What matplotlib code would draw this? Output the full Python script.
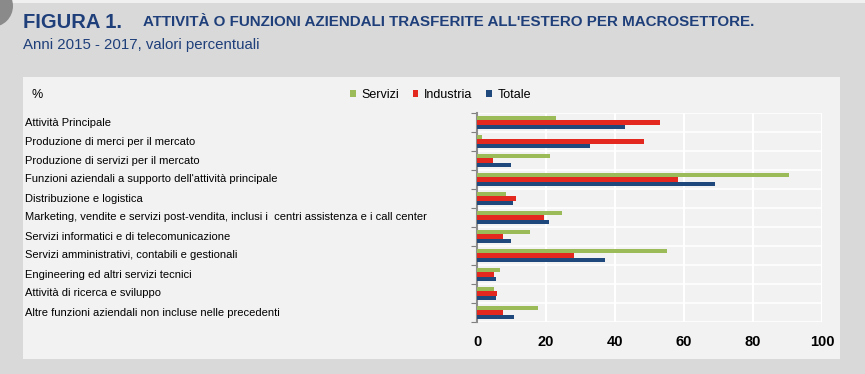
import matplotlib
matplotlib.use("Agg")
import matplotlib.pyplot as plt
from matplotlib.patches import Rectangle, Ellipse

categories = [
    "Attività Principale",
    "Produzione di merci per il mercato",
    "Produzione di servizi per il mercato",
    "Funzioni aziendali a supporto dell'attività principale",
    "Distribuzione e logistica",
    "Marketing, vendite e servizi post-vendita, inclusi i  centri assistenza e i call center",
    "Servizi informatici e di telecomunicazione",
    "Servizi amministrativi, contabili e gestionali",
    "Engineering ed altri servizi tecnici",
    "Attività di ricerca e sviluppo",
    "Altre funzioni aziendali non incluse nelle precedenti",
]
servizi = [23.0, 1.5, 21.2, 90.5, 8.5, 24.5, 15.4, 55.0, 6.7, 4.8, 17.6]
industria = [53.1, 48.4, 4.5, 58.3, 11.3, 19.4, 7.5, 28.1, 4.8, 5.9, 7.4]
totale = [43.0, 32.7, 9.9, 69.1, 10.4, 20.8, 9.9, 37.2, 5.6, 5.6, 10.6]
series_names = ["Servizi", "Industria", "Totale"]
xticks = [0, 20, 40, 60, 80, 100]

plt.rcParams['font.family'] = ['Liberation Sans', 'DejaVu Sans']

W, H = 865, 374
fig = plt.figure(figsize=(W/100, H/100), dpi=100)
fig.patch.set_facecolor('#d9d9d9')

def fx(px): return px / W
def fy(py): return 1 - py / H

# top light strip and corner circle
fig.patches.append(Rectangle((0, fy(3)), 1, fy(0) - fy(3), transform=fig.transFigure,
                             facecolor='#f0f0f0', edgecolor='none', zorder=0))
fig.patches.append(Ellipse((fx(-8), fy(6)), 2 * 21 / W, 2 * 21 / H, transform=fig.transFigure,
                           facecolor='#8a8a8a', edgecolor='none', zorder=1))
# inner panel
fig.patches.append(Rectangle((fx(23), fy(359)), fx(840) - fx(23), fy(77) - fy(359),
                             transform=fig.transFigure, facecolor='#f2f2f2',
                             edgecolor='none', zorder=0))

navy = '#1f3f7a'
fig.text(fx(23), fy(22), "FIGURA 1.", fontsize=14.5, fontweight='bold', color=navy,
         va='center', ha='left')
fig.text(fx(143), fy(22), "ATTIVITÀ O FUNZIONI AZIENDALI TRASFERITE ALL'ESTERO PER MACROSETTORE.",
         fontsize=10.9, fontweight='bold', color=navy, va='center', ha='left')
fig.text(fx(23), fy(45), "Anni 2015 - 2017, valori percentuali", fontsize=10.8,
         color=navy, va='center', ha='left')

ax = fig.add_axes([fx(477), fy(322), fx(822) - fx(477), fy(113) - fy(322)])
ax.set_zorder(5)
ax.set_facecolor('#f2f2f2')

n = len(categories)
ys = list(range(n))
h = 0.23
colors = ['#9bbb59', '#e2281f', '#1f497d']
for off, vals, c, name in zip([-h, 0, h], [servizi, industria, totale], colors, series_names):
    ax.barh([y + off for y in ys], vals, height=h, color=c, label=name, zorder=3)

ax.set_ylim(n - 0.5, -0.5)
ax.set_xlim(0, 100)
ax.set_xticks(xticks)
ax.set_xticklabels([str(t) for t in xticks], fontsize=10.5, fontweight='bold')
ax.tick_params(axis='x', length=0, pad=9)
ax.set_yticks([y - 0.5 for y in range(n + 1)])
ax.set_yticklabels([])
ax.tick_params(axis='y', length=4, color='#7f7f7f', direction='out')
for x in xticks:
    ax.axvline(x, color='white', lw=1.5, zorder=1)
for y in range(n + 1):
    ax.axhline(y - 0.5, color='white', lw=1.2, zorder=1)
for s in ['top', 'right', 'bottom']:
    ax.spines[s].set_visible(False)
ax.spines['left'].set_color('#8c8c8c')
ax.spines['left'].set_linewidth(1.5)

for i, cat in enumerate(categories):
    ycent = 113 + (322 - 113) * (i + 0.5) / n
    fig.text(fx(25), fy(ycent), cat, fontsize=8.0, color='black', va='center', ha='left')

fig.text(fx(31), fy(95), "%", fontsize=9, va='center', ha='left')
leg = fig.legend(loc='center left', bbox_to_anchor=(fx(350), fy(95)), ncol=3, frameon=False,
                 fontsize=9, handlelength=0.45, handleheight=0.45, handletextpad=0.45,
                 columnspacing=1.1, borderpad=0, borderaxespad=0)

fig.savefig('out.png', dpi=100, facecolor=fig.get_facecolor())
